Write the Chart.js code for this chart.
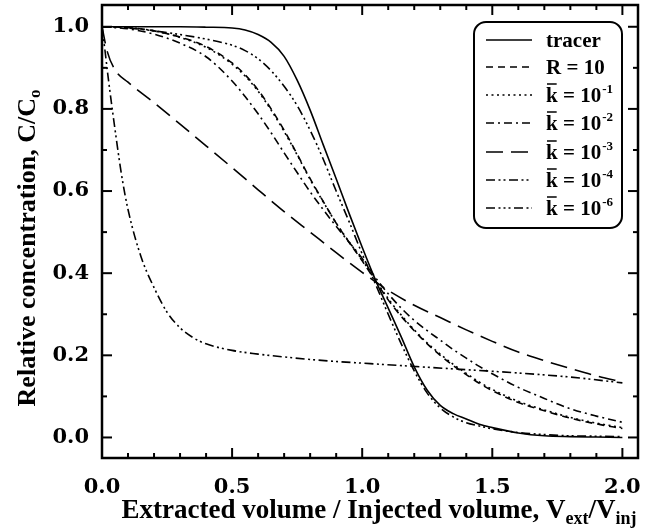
<!DOCTYPE html>
<html><head><meta charset="utf-8">
<script src="https://cdn.jsdelivr.net/npm/chart.js@4.4.1/dist/chart.umd.min.js"></script>
<style>html,body{margin:0;padding:0;background:#fff;}#wrap{width:645px;height:530px;}</style>
</head><body><div id="wrap"><canvas id="c" width="645" height="530"></canvas></div>
<script>
// ---- data ----
const vol = [0,0.1,0.2,0.3,0.4,0.5,0.55,0.6,0.65,0.7,0.75,0.8,0.85,0.9,0.95,1.0,1.05,1.1,1.15,1.2,1.25,1.3,1.35,1.4,1.45,1.5,1.6,1.7,1.8,1.9,2.0];
const tracer = [1.0,1.0,1.0,1.0,0.999,0.997,0.992,0.981,0.962,0.928,0.87,0.797,0.713,0.63,0.545,0.463,0.385,0.315,0.245,0.172,0.115,0.078,0.058,0.045,0.032,0.024,0.011,0.004,0.002,0.001,0.0];
const r10 = [1.0,0.998,0.99,0.975,0.952,0.912,0.883,0.846,0.8,0.748,0.69,0.63,0.575,0.522,0.475,0.43,0.382,0.335,0.295,0.26,0.228,0.2,0.175,0.153,0.132,0.114,0.085,0.065,0.047,0.033,0.022];
const k1 = [1.0,0.998,0.99,0.974,0.95,0.909,0.88,0.843,0.797,0.745,0.688,0.628,0.574,0.522,0.476,0.432,0.384,0.338,0.298,0.262,0.23,0.203,0.178,0.156,0.135,0.117,0.088,0.067,0.049,0.035,0.024];
const k2 = [1.0,0.995,0.982,0.96,0.927,0.868,0.83,0.788,0.742,0.693,0.645,0.598,0.555,0.514,0.475,0.436,0.39,0.35,0.315,0.285,0.26,0.237,0.214,0.193,0.173,0.155,0.122,0.095,0.07,0.052,0.037];
const k3Vol = [0,0.02,0.05,0.1,0.2,0.3,0.4,0.5,0.6,0.7,0.8,0.9,1.0,1.1,1.2,1.3,1.4,1.5,1.6,1.7,1.8,1.9,2.0];
const k3 = [1.0,0.94,0.895,0.865,0.815,0.763,0.71,0.657,0.603,0.55,0.5,0.45,0.402,0.358,0.322,0.292,0.262,0.234,0.208,0.187,0.168,0.15,0.135];
const k4Vol = [0,0.01,0.025,0.05,0.075,0.1,0.15,0.2,0.25,0.3,0.35,0.4,0.5,0.6,0.7,0.8,0.9,1.0,1.2,1.4,1.6,1.8,2.0];
const k4 = [1.0,0.95,0.87,0.75,0.64,0.555,0.44,0.365,0.305,0.267,0.243,0.228,0.212,0.203,0.196,0.19,0.185,0.181,0.173,0.165,0.157,0.147,0.133];
const k6 = [1.0,0.997,0.99,0.981,0.97,0.955,0.942,0.922,0.893,0.855,0.808,0.748,0.678,0.6,0.525,0.447,0.375,0.3,0.228,0.162,0.108,0.072,0.05,0.036,0.028,0.021,0.012,0.007,0.004,0.003,0.002];

const seriesNames = ['tracer','R = 10','k = 10','k = 10','k = 10','k = 10','k = 10'];
const seriesExp   = ['','','-1','-2','-3','-4','-6'];
const xTickLabels = [0,0.5,1.0,1.5,2.0];
const yTickLabels = [0,0.2,0.4,0.6,0.8,1.0];
const xMinor = [0,0.1,0.2,0.3,0.4,0.5,0.6,0.7,0.8,0.9,1.0,1.1,1.2,1.3,1.4,1.5,1.6,1.7,1.8,1.9,2.0];
const yMinor = [0,0.1,0.2,0.3,0.4,0.5,0.6,0.7,0.8,0.9,1.0];

const pts = (xs, ys) => xs.map((x, i) => ({x, y: ys[i]}));
const SERIF = '"Liberation Serif", "Times New Roman", serif';
const TICKFONT = '"DejaVu Serif", serif';

function ds(i, xs, ys, dash){
  return {label: seriesNames[i] + seriesExp[i], data: pts(xs, ys), borderColor:'#000', borderWidth:1.6,
    borderDash: dash, showLine:true, pointRadius:0, fill:false, cubicInterpolationMode:'monotone'};
}
const datasets = [
  ds(0, vol, tracer, []),
  ds(1, vol, r10, [7,5]),
  ds(2, vol, k1, [2,3.5]),
  ds(3, vol, k2, [8,4,2,4]),
  ds(4, k3Vol, k3, [17,8]),
  ds(5, k4Vol, k4, [9,3.5,2,3,2,3.5]),
  ds(6, vol, k6, [9,3.5,2,3,2,3,2,3.5])
];

function seg(ctx,x1,y1,x2,y2){ctx.beginPath();ctx.moveTo(x1,y1);ctx.lineTo(x2,y2);ctx.stroke();}

const deco = {
  id:'deco',
  afterDraw(chart){
    const {ctx, chartArea:a, scales:{x, y}} = chart;
    ctx.save();
    ctx.strokeStyle='#000'; ctx.fillStyle='#000'; ctx.setLineDash([]);
    ctx.lineWidth=2;
    xMinor.forEach((v,i)=>{const px=x.getPixelForValue(v);const L=(i%5===0)?10:5;
      seg(ctx,px,a.bottom,px,a.bottom-L); seg(ctx,px,a.top,px,a.top+L);});
    yMinor.forEach((v,i)=>{const py=y.getPixelForValue(v);const L=(i%2===0)?10:5;
      seg(ctx,a.left,py,a.left+L,py); seg(ctx,a.right,py,a.right-L,py);});
    ctx.lineWidth=2.5;
    ctx.strokeRect(a.left,a.top,a.right-a.left,a.bottom-a.top);

    // legend box
    const bx=474,by=22,bw=148,bh=206,r=12;
    ctx.fillStyle='#fff'; ctx.lineWidth=2;
    ctx.beginPath(); ctx.roundRect(bx,by,bw,bh,r); ctx.fill(); ctx.stroke();
    ctx.fillStyle='#000';
    const rowY=[40,67,95,123,152,180,208];
    chart.data.datasets.forEach((d,i)=>{
      const cy=rowY[i];
      ctx.lineWidth=1.6; ctx.setLineDash(d.borderDash||[]);
      seg(ctx,486,cy,532,cy);
      ctx.setLineDash([]);
      ctx.font='bold 21px '+SERIF; ctx.textBaseline='alphabetic'; ctx.textAlign='left';
      const base=cy+7; let tx=546;
      if(seriesExp[i]===''){ ctx.fillText(seriesNames[i],tx,base); }
      else {
        const kw=ctx.measureText('k').width;
        ctx.fillText(seriesNames[i],tx,base);
        ctx.lineWidth=1.5; seg(ctx,tx+1,base-18,tx+kw-1,base-18);
        const w=ctx.measureText(seriesNames[i]).width;
        ctx.font='bold 13px '+SERIF; ctx.fillText(seriesExp[i],tx+w+1,base-9);
      }
    });

    // y axis title
    ctx.save();
    ctx.translate(35,248); ctx.rotate(-Math.PI/2);
    ctx.font='bold 26px '+SERIF; const m1='Relative concentration, C/C'; const w1=ctx.measureText(m1).width;
    ctx.font='bold 17px '+SERIF; const w2=ctx.measureText('o').width;
    let sx=-(w1+w2)/2; ctx.textAlign='left'; ctx.textBaseline='alphabetic';
    ctx.font='bold 26px '+SERIF; ctx.fillText(m1,sx,0);
    ctx.font='bold 17px '+SERIF; ctx.fillText('o',sx+w1,5);
    ctx.restore();

    // x axis title
    const parts=[['Extracted volume / Injected volume, V',0],['ext',1],['/V',0],['inj',1]];
    let tot=0; parts.forEach(p=>{ctx.font=(p[1]?'bold 18px ':'bold 27px ')+SERIF; p.push(ctx.measureText(p[0]).width); tot+=p[2];});
    let px=379-tot/2; ctx.textAlign='left'; ctx.textBaseline='alphabetic';
    parts.forEach(p=>{ctx.font=(p[1]?'bold 18px ':'bold 27px ')+SERIF; ctx.fillText(p[0],px,p[1]?524:518); px+=p[2];});
    ctx.restore();
  }
};

new Chart(document.getElementById('c'),{
  type:'scatter',
  data:{datasets},
  options:{
    responsive:false, animation:false, devicePixelRatio:1,
    layout:{padding:{top:5,right:7,left:0,bottom:0}},
    plugins:{legend:{display:false},tooltip:{enabled:false}},
    scales:{
      x:{type:'linear',min:0,max:2.06,
        grid:{display:false,drawTicks:false},border:{display:false},
        afterBuildTicks(s){s.ticks=xTickLabels.map(v=>({value:v}));},
        afterFit(s){s.height=72; s.paddingLeft=0; s.paddingRight=0; s.paddingTop=0; s.paddingBottom=0;},
        ticks:{font:{family:TICKFONT,size:21,weight:'bold'},color:'#000',padding:17,maxRotation:0,autoSkip:false,
          callback:v=>Number(v).toFixed(1)}},
      y:{type:'linear',min:-0.05,max:1.053,
        grid:{display:false,drawTicks:false},border:{display:false},
        afterBuildTicks(s){s.ticks=yTickLabels.map(v=>({value:v}));},
        afterFit(s){s.width=102; s.paddingLeft=0; s.paddingRight=0; s.paddingTop=0; s.paddingBottom=0;},
        ticks:{font:{family:TICKFONT,size:21,weight:'bold'},color:'#000',padding:13,autoSkip:false,
          callback:v=>Number(v).toFixed(1)}}
    }
  },
  plugins:[deco]
});
</script></body></html>
